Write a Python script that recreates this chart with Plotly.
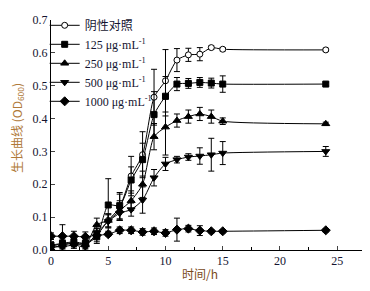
import plotly.graph_objects as go

time_h = [0, 1, 2, 3, 4, 5, 6, 7, 8, 9, 10, 11, 12, 13, 14, 15, 24]

ctrl = [0.010, 0.020, 0.020, 0.020, 0.045, 0.090, 0.130, 0.225, 0.290, 0.465, 0.515, 0.578, 0.594, 0.596, 0.616, 0.611, 0.609]
ctrl_err = [0.005, 0.010, 0.010, 0.010, 0.020, 0.020, 0.040, 0.060, 0.070, 0.085, 0.095, 0.035, 0.020, 0.020, 0.005, 0.005, 0.005]

c125 = [0.015, 0.020, 0.025, 0.020, 0.040, 0.137, 0.135, 0.213, 0.275, 0.412, 0.468, 0.505, 0.507, 0.510, 0.508, 0.505, 0.505]
c125_err = [0.010, 0.010, 0.010, 0.010, 0.020, 0.080, 0.040, 0.040, 0.050, 0.070, 0.060, 0.020, 0.015, 0.015, 0.015, 0.025, 0.005]

c250 = [0.005, 0.015, 0.020, 0.015, 0.077, 0.090, 0.120, 0.150, 0.200, 0.345, 0.374, 0.394, 0.406, 0.414, 0.406, 0.392, 0.384]
c250_err = [0.005, 0.010, 0.010, 0.010, 0.020, 0.020, 0.030, 0.030, 0.040, 0.040, 0.085, 0.020, 0.020, 0.020, 0.020, 0.010, 0.005]

c500 = [0.010, 0.010, 0.015, 0.010, 0.052, 0.087, 0.112, 0.123, 0.152, 0.220, 0.262, 0.275, 0.283, 0.286, 0.290, 0.295, 0.300]
c500_err = [0.005, 0.010, 0.010, 0.010, 0.015, 0.020, 0.020, 0.020, 0.040, 0.025, 0.020, 0.010, 0.010, 0.025, 0.050, 0.035, 0.015]

c1000 = [0.042, 0.042, 0.042, 0.040, 0.045, 0.048, 0.060, 0.060, 0.055, 0.057, 0.052, 0.062, 0.065, 0.059, 0.057, 0.057, 0.060]
c1000_err = [0.010, 0.035, 0.015, 0.015, 0.010, 0.005, 0.010, 0.010, 0.010, 0.010, 0.010, 0.035, 0.010, 0.015, 0.005, 0.005, 0.005]

names = ["阴性对照", "125 μg·mL<sup>-1</sup>", "250 μg·mL<sup>-1</sup>",
         "500 μg·mL<sup>-1</sup>", "1000 μg·mL<sup>-1</sup>"]
series = [ctrl, c125, c250, c500, c1000]
errs = [ctrl_err, c125_err, c250_err, c500_err, c1000_err]
symbols = ["circle", "square", "triangle-up", "triangle-down", "diamond"]
fills = ["white", "black", "black", "black", "black"]
sizes = [6, 6, 7, 7, 7]

fig = go.Figure()
for nm, ys, er, sym, fc, sz in zip(names, series, errs, symbols, fills, sizes):
    fig.add_trace(go.Scatter(
        x=time_h, y=ys, name=nm, mode="lines+markers",
        line=dict(color="black", width=1, shape="spline", smoothing=0.6),
        marker=dict(symbol=sym, size=sz, color=fc, line=dict(color="black", width=1)),
        error_y=dict(type="data", array=er, visible=True, color="black", thickness=1, width=3),
    ))

serif = "Liberation Serif, Times New Roman, serif"
cjk = "Noto Sans CJK SC, Liberation Serif"
tick_font = dict(family=serif, size=12, color="#141430")
fig.update_layout(
    width=362, height=283,
    margin=dict(l=43, r=3, t=10, b=41),
    paper_bgcolor="white", plot_bgcolor="white",
    font=dict(family=serif + ", Noto Sans CJK SC", size=12, color="#141430"),
    showlegend=True,
    legend=dict(x=-0.02, y=1.04, xanchor="left", yanchor="top", bgcolor="rgba(0,0,0,0)",
                font=dict(family=serif + ", Noto Sans CJK SC", size=12, color="#141430"),
                tracegroupgap=0, itemwidth=30),
    xaxis=dict(range=[0, 27.6], tick0=0, dtick=5, ticks="inside", ticklen=4,
               showline=True, linecolor="black", linewidth=1, showgrid=False, zeroline=False,
               tickfont=tick_font, automargin=False,
               minor=dict(dtick=2.5, ticks="inside", ticklen=3, tickcolor="black")),
    yaxis=dict(range=[0, 0.7], tick0=0, dtick=0.1, tickformat=".1f", ticks="inside", ticklen=4,
               showline=True, linecolor="black", linewidth=1, showgrid=False, zeroline=False,
               tickfont=tick_font, automargin=False),
    annotations=[
        dict(text="时间/h", xref="paper", yref="paper", x=0.47, y=-0.103, xanchor="center", yanchor="middle",
             showarrow=False, font=dict(family=cjk, size=12, color="#7a4a1a")),
        dict(text="生长曲线 (OD<sub>600</sub>)", xref="paper", yref="paper", x=-0.108, y=0.53,
             xanchor="center", yanchor="middle", textangle=-90,
             showarrow=False, font=dict(family=cjk, size=12, color="#b07a3a")),
    ],
)
fig.write_html("out.html")
